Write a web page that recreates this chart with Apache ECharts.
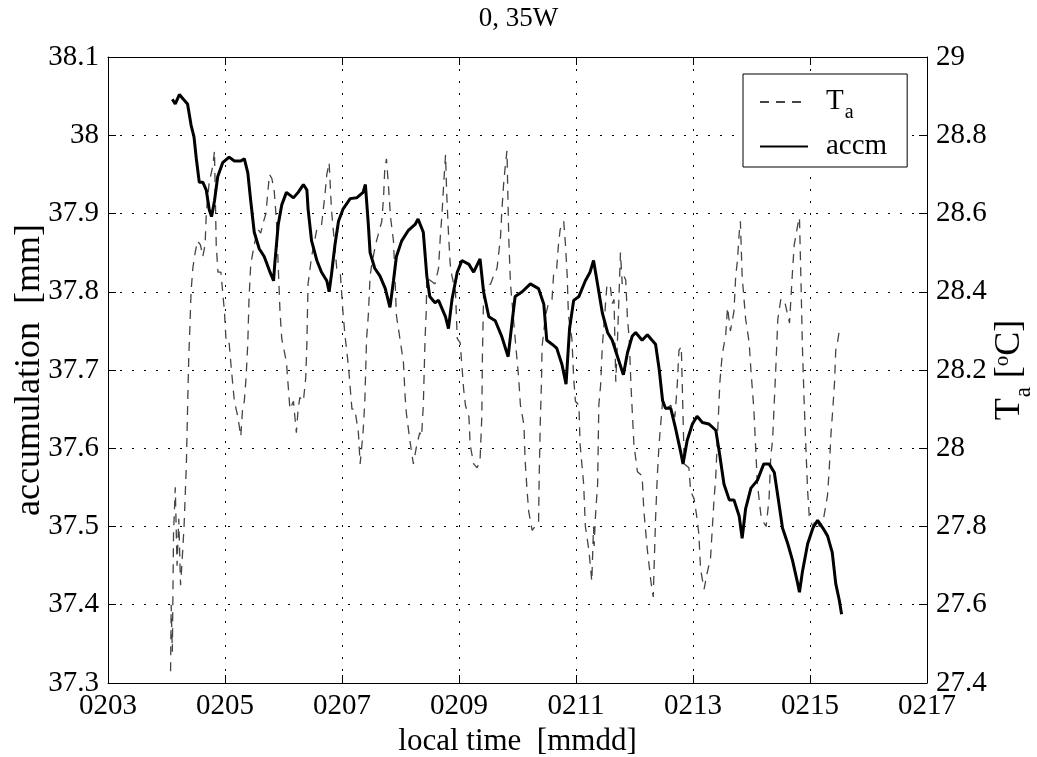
<!DOCTYPE html>
<html>
<head>
<meta charset="utf-8">
<script src="https://cdn.jsdelivr.net/npm/echarts@6/dist/echarts.min.js"></script>
<style>
  html, body { margin: 0; padding: 0; background: #fff; }
  #chart { width: 1037px; height: 757px; }
</style>
</head>
<body>
<div id="chart"></div>
<script>
// time in days of February (4.5 = 0204 12:00)
const accmDays = [4.10, 4.15, 4.22, 4.30, 4.36, 4.42, 4.47, 4.51, 4.56, 4.62, 4.68, 4.73, 4.77, 4.82, 4.875, 4.96,
  5.07, 5.16, 5.27, 5.33, 5.39, 5.44, 5.50, 5.585, 5.67, 5.77, 5.83, 5.85, 5.91, 5.97, 6.05, 6.17, 6.25, 6.34, 6.40,
  6.42, 6.48, 6.57, 6.65, 6.74, 6.78, 6.82, 6.88, 6.94, 7.02, 7.14, 7.25, 7.36, 7.40, 7.45, 7.48, 7.56, 7.65, 7.74,
  7.82, 7.88, 7.93, 8.02, 8.13, 8.25, 8.30, 8.39, 8.45, 8.50, 8.59, 8.65, 8.77, 8.82, 8.88, 8.97, 9.05, 9.17, 9.25,
  9.36, 9.42, 9.51, 9.62, 9.73, 9.84, 9.91, 9.96, 10.08, 10.22, 10.36, 10.45, 10.50, 10.59, 10.67, 10.76, 10.83,
  10.89, 10.96, 11.05, 11.16, 11.24, 11.30, 11.37, 11.45, 11.54, 11.62, 11.71, 11.81, 11.88, 11.96, 12.02, 12.13,
  12.22, 12.30, 12.36, 12.42, 12.48, 12.53, 12.62, 12.70, 12.79, 12.83, 12.90, 12.99, 13.07, 13.16, 13.27, 13.39,
  13.45, 13.53, 13.62, 13.70, 13.79, 13.84, 13.90, 13.99, 14.10, 14.21, 14.30, 14.39, 14.45, 14.53, 14.62, 14.70,
  14.79, 14.82, 14.87, 14.96, 15.05, 15.13, 15.22, 15.30, 15.38, 15.44, 15.50, 15.54];
const accmVals = [38.046, 38.040, 38.052, 38.045, 38.040, 38.013, 37.998, 37.970, 37.940, 37.940, 37.930, 37.905,
  37.896, 37.916, 37.947, 37.965, 37.972, 37.967, 37.967, 37.970, 37.952, 37.916, 37.876, 37.855, 37.845, 37.825,
  37.814, 37.835, 37.886, 37.911, 37.927, 37.920, 37.927, 37.937, 37.930, 37.906, 37.865, 37.840, 37.825, 37.814,
  37.800, 37.822, 37.860, 37.890, 37.906, 37.919, 37.920, 37.927, 37.937, 37.886, 37.850, 37.830, 37.820, 37.804,
  37.780, 37.814, 37.845, 37.865, 37.878, 37.886, 37.893, 37.876, 37.820, 37.794, 37.786, 37.789, 37.768, 37.753,
  37.790, 37.825, 37.840, 37.835, 37.825, 37.842, 37.800, 37.768, 37.763, 37.743, 37.717, 37.763, 37.794, 37.800,
  37.810, 37.804, 37.784, 37.738, 37.733, 37.728, 37.707, 37.682, 37.753, 37.789, 37.794, 37.814, 37.825, 37.840,
  37.809, 37.773, 37.748, 37.738, 37.717, 37.694, 37.722, 37.743, 37.748, 37.738, 37.745, 37.738, 37.733, 37.702,
  37.661, 37.651, 37.651, 37.626, 37.595, 37.580, 37.610, 37.631, 37.641, 37.633, 37.631, 37.623, 37.595, 37.554,
  37.534, 37.534, 37.513, 37.485, 37.523, 37.549, 37.559, 37.580, 37.580, 37.569, 37.539, 37.498, 37.478, 37.457,
  37.427, 37.416, 37.442, 37.478, 37.498, 37.508, 37.498, 37.488, 37.467, 37.427, 37.406, 37.388];

const taDays = [4.07, 4.08, 4.10, 4.12, 4.15, 4.18, 4.21, 4.24, 4.27, 4.30, 4.34, 4.36, 4.38, 4.40, 4.42, 4.45, 4.49,
  4.53, 4.58, 4.62, 4.66, 4.68, 4.73, 4.79, 4.82, 4.85, 4.88, 4.93, 4.99, 5.02, 5.07, 5.11, 5.16, 5.22, 5.27, 5.30,
  5.33, 5.36, 5.39, 5.41, 5.44, 5.50, 5.56, 5.61, 5.66, 5.70, 5.76, 5.80, 5.84, 5.88, 5.94, 5.97, 6.05, 6.08, 6.11,
  6.17, 6.22, 6.25, 6.28, 6.34, 6.38, 6.40, 6.41, 6.42, 6.48, 6.57, 6.65, 6.71, 6.74, 6.78, 6.82, 6.85, 6.91, 6.97,
  7.01, 7.05, 7.11, 7.17, 7.22, 7.28, 7.31, 7.36, 7.39, 7.42, 7.45, 7.48, 7.51, 7.56, 7.59, 7.68, 7.71, 7.73, 7.76,
  7.79, 7.83, 7.88, 7.90, 7.93, 7.99, 8.05, 8.08, 8.10, 8.16, 8.22, 8.28, 8.33, 8.36, 8.39, 8.42, 8.44, 8.45, 8.50,
  8.59, 8.65, 8.68, 8.71, 8.74, 8.77, 8.79, 8.82, 8.85, 8.88, 8.94, 8.97, 9.02, 9.08, 9.11, 9.17, 9.19, 9.25, 9.31,
  9.36, 9.39, 9.40, 9.42, 9.45, 9.54, 9.59, 9.65, 9.71, 9.73, 9.76, 9.79, 9.82, 9.85, 9.88, 9.96, 10.02, 10.05,
  10.11, 10.13, 10.16, 10.19, 10.25, 10.30, 10.36, 10.37, 10.39, 10.41, 10.42, 10.48, 10.53, 10.59, 10.62, 10.67,
  10.70, 10.73, 10.79, 10.82, 10.85, 10.87, 10.93, 10.96, 10.99, 11.05, 11.07, 11.13, 11.16, 11.22, 11.27, 11.30,
  11.31, 11.33, 11.37, 11.39, 11.42, 11.45, 11.48, 11.53, 11.59, 11.62, 11.65, 11.68, 11.71, 11.76, 11.79, 11.82,
  11.85, 11.88, 11.91, 11.94, 11.99, 12.05, 12.13, 12.16, 12.22, 12.28, 12.32, 12.36, 12.39, 12.42, 12.48, 12.53,
  12.62, 12.69, 12.73, 12.76, 12.80, 12.85, 12.93, 12.96, 13.02, 13.07, 13.10, 13.13, 13.19, 13.24, 13.30, 13.36,
  13.39, 13.43, 13.46, 13.50, 13.56, 13.59, 13.64, 13.70, 13.73, 13.76, 13.79, 13.81, 13.84, 13.90, 13.96, 13.99,
  14.04, 14.10, 14.16, 14.21, 14.25, 14.30, 14.33, 14.36, 14.39, 14.42, 14.45, 14.48, 14.50, 14.56, 14.62, 14.65,
  14.70, 14.73, 14.79, 14.82, 14.85, 14.87, 14.90, 14.93, 14.96, 14.99, 15.05, 15.10, 15.16, 15.22, 15.30, 15.33,
  15.36, 15.39, 15.42, 15.44, 15.47, 15.50];
const taVals = [27.43, 27.60, 27.48, 27.78, 27.90, 27.70, 27.82, 27.65, 27.72, 27.80, 27.96, 28.10, 28.23, 28.31,
  28.40, 28.46, 28.50, 28.53, 28.52, 28.49, 28.52, 28.60, 28.68, 28.72, 28.76, 28.52, 28.45, 28.45, 28.35, 28.27,
  28.27, 28.20, 28.12, 28.08, 28.03, 28.10, 28.12, 28.18, 28.27, 28.38, 28.47, 28.52, 28.56, 28.55, 28.58, 28.60,
  28.70, 28.69, 28.66, 28.58, 28.35, 28.28, 28.22, 28.16, 28.10, 28.12, 28.04, 28.10, 28.13, 28.12, 28.18, 28.27,
  28.35, 28.42, 28.49, 28.56, 28.57, 28.65, 28.70, 28.73, 28.61, 28.56, 28.46, 28.45, 28.36, 28.29, 28.21, 28.10,
  28.10, 28.04, 27.96, 28.04, 28.12, 28.28, 28.34, 28.44, 28.47, 28.51, 28.53, 28.58, 28.64, 28.71, 28.74, 28.68,
  28.59, 28.53, 28.46, 28.34, 28.28, 28.22, 28.13, 28.09, 28.02, 27.96, 28.01, 28.04, 28.03, 28.11, 28.28, 28.35,
  28.44, 28.43, 28.42, 28.46, 28.54, 28.60, 28.68, 28.75, 28.65, 28.55, 28.47, 28.44, 28.40, 28.28, 28.27, 28.15,
  28.11, 28.08, 28.01, 27.96, 27.95, 27.97, 28.08, 28.23, 28.39, 28.41, 28.42, 28.44, 28.46, 28.54, 28.60, 28.67,
  28.72, 28.76, 28.54, 28.42, 28.28, 28.18, 28.11, 28.06, 27.97, 27.90, 27.84, 27.79, 27.80, 27.81, 27.92, 28.07,
  28.17, 28.26, 28.34, 28.37, 28.38, 28.45, 28.46, 28.52, 28.56, 28.58, 28.52, 28.44, 28.34, 28.28, 28.18, 28.12,
  28.11, 28.01, 27.91, 27.80, 27.74, 27.66, 27.80, 27.75, 27.82, 27.91, 28.11, 28.16, 28.26, 28.32, 28.42, 28.41,
  28.37, 28.38, 28.17, 28.28, 28.50, 28.42, 28.44, 28.43, 28.33, 28.28, 28.16, 28.01, 27.94, 27.93, 27.84, 27.74,
  27.66, 27.62, 27.82, 27.93, 28.01, 28.12, 28.10, 28.11, 28.08, 28.16, 28.25, 28.26, 27.96, 27.95, 27.89, 27.87,
  27.82, 27.78, 27.69, 27.64, 27.68, 27.72, 27.87, 27.93, 28.07, 28.17, 28.24, 28.29, 28.36, 28.30, 28.35, 28.44,
  28.48, 28.55, 28.58, 28.44, 28.33, 28.27, 28.20, 28.10, 27.91, 27.83, 27.81, 27.80, 27.87, 27.98, 28.02, 28.12,
  28.22, 28.33, 28.36, 28.38, 28.38, 28.34, 28.32, 28.45, 28.52, 28.57, 28.59, 28.40, 28.26, 28.12, 28.00, 27.89,
  27.82, 27.80, 27.82, 27.80, 27.81, 27.88, 27.95, 28.04, 28.10, 28.17, 28.25, 28.27, 28.30];

const serif = 'Liberation Serif'
const dotted = { color: '#000', width: 1, type: [2, 10] }

const chart = echarts.init(document.getElementById('chart'))
chart.setOption({
  backgroundColor: '#fff',
  animation: false,
  textStyle: { fontFamily: serif, color: '#000' },
  title: {
    text: '0, 35W',
    left: 'center',
    top: 0,
    textStyle: { fontFamily: serif, fontSize: 27, fontWeight: 'normal', color: '#000' },
  },
  grid: { left: 108, right: 110, top: 57, bottom: 74, outerBoundsMode: 'none' },
  legend: {
    orient: 'vertical',
    left: 743,
    top: 74,
    padding: [7, 20, 6, 16],
    itemGap: 9,
    itemWidth: 48,
    itemHeight: 14,
    borderColor: '#000',
    borderWidth: 1,
    backgroundColor: '#fff',
    itemStyle: { opacity: 0 },
    data: ['T_a', 'accm'],
    formatter: name => (name === 'T_a' ? '{t|T}{s|a}' : '{n|accm}'),
    textStyle: {
      fontFamily: serif,
      color: '#000',
      padding: [0, 0, 0, 13],
      rich: {
        t: { fontFamily: serif, fontSize: 29, lineHeight: 30, verticalAlign: 'top' },
        s: { fontFamily: serif, fontSize: 20, lineHeight: 14, padding: [22, 0, 0, 1] },
        n: { fontFamily: serif, fontSize: 29, lineHeight: 36 },
      },
    },
  },
  xAxis: [
    {
      type: 'value',
      min: 3,
      max: 17,
      interval: 2,
      name: 'local time  [mmdd]',
      nameLocation: 'middle',
      nameGap: 40,
      nameTextStyle: { fontFamily: serif, fontSize: 31, color: '#000' },
      axisLine: { show: true, lineStyle: { color: '#000', width: 1 } },
      axisTick: { show: true, inside: true, length: 8, lineStyle: { color: '#000' } },
      axisLabel: {
        fontFamily: serif, fontSize: 29, color: '#000', margin: 9,
        formatter: v => '02' + String(v).padStart(2, '0'),
      },
      splitLine: { show: true, lineStyle: dotted },
    },
    {
      type: 'value',
      position: 'top',
      min: 3,
      max: 17,
      interval: 2,
      axisLine: { show: true, lineStyle: { color: '#000', width: 1 } },
      axisTick: { show: true, inside: true, length: 8, lineStyle: { color: '#000' } },
      axisLabel: { show: false },
      splitLine: { show: false },
    },
  ],
  yAxis: [
    {
      type: 'value',
      min: 37.3,
      max: 38.1,
      interval: 0.1,
      name: 'accumulation  [mm]',
      nameLocation: 'middle',
      nameRotate: 90,
      nameGap: 60,
      nameMoveOverlap: false,
      nameTextStyle: { fontFamily: serif, fontSize: 36, color: '#000' },
      axisLine: { show: true, lineStyle: { color: '#000', width: 1 } },
      axisTick: { show: true, inside: true, length: 8, lineStyle: { color: '#000' } },
      axisLabel: {
        fontFamily: serif, fontSize: 29, color: '#000', margin: 9,
        formatter: v => String(parseFloat(v.toFixed(1))),
      },
      splitLine: { show: true, lineStyle: dotted },
    },
    {
      type: 'value',
      min: 27.4,
      max: 29,
      interval: 0.2,
      position: 'right',
      name: '{t|T}{s|a}{t| [}{o|o}{t|C]}',
      nameLocation: 'middle',
      nameRotate: 90,
      nameGap: 65,
      nameMoveOverlap: false,
      nameTextStyle: {
        fontFamily: serif,
        color: '#000',
        rich: {
          t: { fontFamily: serif, fontSize: 36, lineHeight: 36, verticalAlign: 'top' },
          s: { fontFamily: serif, fontSize: 23, lineHeight: 16, padding: [27, 0, 0, 1] },
          o: { fontFamily: serif, fontSize: 21, lineHeight: 16, verticalAlign: 'top' },
        },
      },
      axisLine: { show: true, lineStyle: { color: '#000', width: 1 } },
      axisTick: { show: true, inside: true, length: 8, lineStyle: { color: '#000' } },
      axisLabel: {
        fontFamily: serif, fontSize: 29, color: '#000', margin: 9,
        formatter: v => String(parseFloat(v.toFixed(1))),
      },
      splitLine: { show: false },
    },
  ],
  series: [
    {
      name: 'T_a',
      type: 'line',
      yAxisIndex: 1,
      showSymbol: false,
      symbol: 'none',
      data: taDays.map((d, i) => [d, taVals[i]]),
      lineStyle: { color: '#444', width: 1.3, type: [9, 7] },
      itemStyle: { color: '#444' },
    },
    {
      name: 'accm',
      type: 'line',
      yAxisIndex: 0,
      showSymbol: false,
      symbol: 'none',
      data: accmDays.map((d, i) => [d, accmVals[i]]),
      lineStyle: { color: '#000', width: 3 },
      itemStyle: { color: '#000' },
    },
  ],
})
</script>
</body>
</html>
